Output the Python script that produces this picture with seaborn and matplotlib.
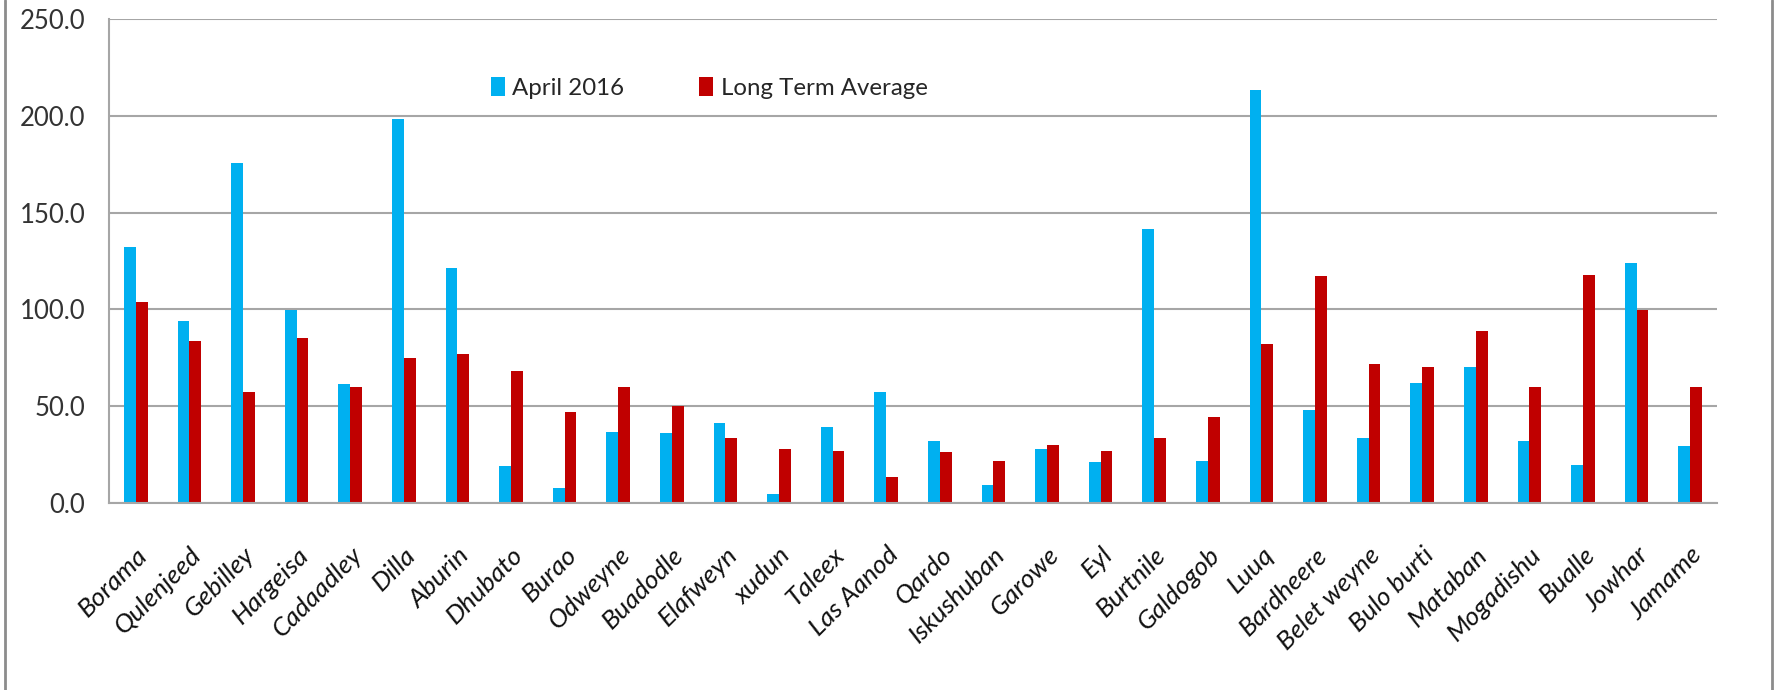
import matplotlib
matplotlib.use("Agg")
import matplotlib.pyplot as plt
import seaborn as sns
import pandas as pd
from matplotlib.lines import Line2D

stations = ["Borama", "Qulenjeed", "Gebilley", "Hargeisa", "Cadaadley", "Dilla", "Aburin",
            "Dhubato", "Burao", "Odweyne", "Buadodle", "Elafweyn", "xudun", "Taleex",
            "Las Aanod", "Qardo", "Iskushuban", "Garowe", "Eyl", "Burtnile", "Galdogob",
            "Luuq", "Bardheere", "Belet weyne", "Bulo burti", "Mataban", "Mogadishu",
            "Bualle", "Jowhar", "Jamame"]
april_2016 = [132.4, 94.0, 175.9, 99.7, 61.2, 198.3, 121.6, 18.8, 7.4, 36.7, 35.9, 41.0,
              4.7, 39.0, 57.4, 32.1, 9.0, 27.6, 20.9, 141.7, 21.7, 213.3, 47.8, 33.6,
              61.9, 70.0, 32.1, 19.5, 123.8, 29.1]
long_term_avg = [103.6, 83.4, 57.4, 85.0, 59.7, 74.7, 76.7, 67.9, 47.1, 59.7, 50.0, 33.6,
                 27.6, 26.9, 13.4, 26.0, 21.7, 30.0, 26.9, 33.6, 44.1, 82.1, 117.1, 71.6,
                 70.0, 88.6, 59.7, 117.8, 99.8, 59.7]
series_names = ["April 2016", "Long Term Average"]
y_ticks = [0, 50, 100, 150, 200, 250]

df = pd.DataFrame({
    "Station": stations * 2,
    "Rainfall": april_2016 + long_term_avg,
    "Series": [series_names[0]] * len(stations) + [series_names[1]] * len(stations),
})

sns.set_style("white")
plt.rcParams["font.family"] = ["Lato", "DejaVu Sans"]

fig = plt.figure(figsize=(17.75, 6.9), dpi=100)
ax = fig.add_axes([0.0614, 0.2714, 0.9059, 0.7006])

palette = {series_names[0]: "#00B0F0", series_names[1]: "#C00000"}
sns.barplot(data=df, x="Station", y="Rainfall", hue="Series", palette=palette,
            width=0.44, gap=0, ax=ax, saturation=1, linewidth=0, legend=True)

ax.set_ylim(0, 250)
ax.set_xlim(-0.5, len(stations) - 0.5)
ax.set_yticks(y_ticks)
ax.set_yticklabels([f"{v:.1f}" for v in y_ticks], fontsize=18.5, color="#333333")
ax.yaxis.grid(True, color="#A6A6A6", linewidth=1.5)
ax.set_axisbelow(True)
ax.set_xlabel("")
ax.set_ylabel("")
ax.tick_params(axis="y", length=0, pad=17)
ax.tick_params(axis="x", length=0, pad=29)
plt.setp(ax.get_xticklabels(), rotation=45, ha="right", rotation_mode="anchor",
         fontsize=19, style="italic", color="#111111")

for side in ["top", "right"]:
    ax.spines[side].set_visible(False)
for side in ["left", "bottom"]:
    ax.spines[side].set_color("#A6A6A6")
    ax.spines[side].set_linewidth(1.5)

leg = ax.legend(loc="upper left", bbox_to_anchor=(0.224, 0.925), ncol=2, frameon=False,
                fontsize=17.3, handlelength=0.6, handleheight=0.8, handletextpad=0.3,
                columnspacing=3.1)

# outer chart border (left and right sides)
fig.add_artist(Line2D([0.003, 0.003], [0, 1], color="#8C8C8C", linewidth=2,
                      transform=fig.transFigure))
fig.add_artist(Line2D([0.9985, 0.9985], [0, 1], color="#8C8C8C", linewidth=2,
                      transform=fig.transFigure))

fig.savefig("out.png", dpi=100, facecolor="white")
